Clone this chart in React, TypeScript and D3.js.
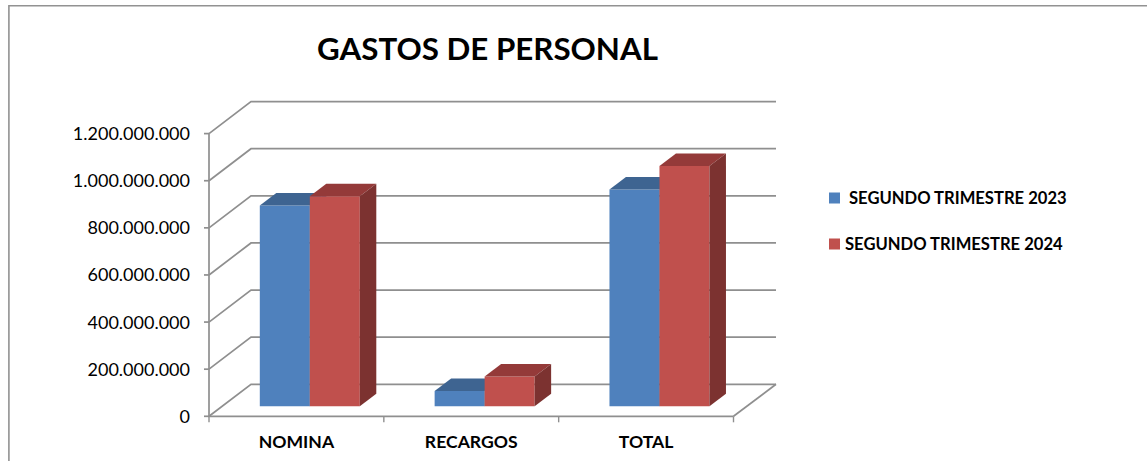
import * as d3 from "d3";

const categories = ["NOMINA", "RECARGOS", "TOTAL"];
const seriesNames = ["SEGUNDO TRIMESTRE 2023", "SEGUNDO TRIMESTRE 2024"];
const values2023 = [852000000, 65000000, 920000000];
const values2024 = [892000000, 127000000, 1020000000];
const yTicks = [0, 200000000, 400000000, 600000000, 800000000, 1000000000, 1200000000];

const FONT = "Lato, 'Open Sans', sans-serif";
const GRID = "#8f8f8f";
const depthX = 42;
const depthY = 32;
const barDepthX = 16.5;
const barDepthY = 12.5;

const fronts = ["#4f81bd", "#c0504d"];
const tops = ["#3e6491", "#943a39"];
const sides = ["#3a5e8a", "#7c3230"];

const x0 = d3.scaleBand().domain(categories).range([209, 733.5]);
const x1 = d3.scaleBand().domain(seriesNames).range([50.8, 150.8]);
const y = d3.scaleLinear().domain([0, 1200000000]).range([416.3, 133.6]);
// bars stand a bit behind the front edge of the floor
const barBase = 10;

const tickFormat = (v: number) => d3.format(",")(v).replace(/,/g, ".");

const poly = (pts: [number, number][]) => d3.line()(pts) + "Z";

function Bar({ cat, s, value }: { cat: string; s: number; value: number }) {
  const left = x0(cat)! + x1(seriesNames[s])!;
  const right = left + x1.bandwidth();
  const bottom = y(0) - barBase;
  const top = y(value) - barBase;
  return (
    <g>
      <path fill={fronts[s]} d={poly([[left, top], [right, top], [right, bottom], [left, bottom]])} />
      <path
        fill={tops[s]}
        d={poly([[left, top], [left + barDepthX, top - barDepthY], [right + barDepthX, top - barDepthY], [right, top]])}
      />
      <path
        fill={sides[s]}
        d={poly([[right, top], [right + barDepthX, top - barDepthY], [right + barDepthX, bottom - barDepthY], [right, bottom]])}
      />
    </g>
  );
}

export default function App() {
  const [xl, xr] = x0.range();
  const bounds = [...categories.map((c) => x0(c)!), xr];
  const legendY = [198, 244];
  const legendTextX = [849, 845];

  return (
    <svg width={1147} height={461} style={{ position: "absolute", left: 0, top: 0, background: "#fff" }}>
      {/* outer chart frame */}
      <path d="M1147,5.7H8.9V461" fill="none" stroke="#929292" strokeWidth={1.6} />

      <text x={487.5} y={60} textAnchor="middle" fontFamily={FONT} fontWeight={700} fontSize={31.3} fill="#000">
        GASTOS DE PERSONAL
      </text>

      {/* back wall and left wall grid */}
      {yTicks.map((t) => (
        <g key={t} fill="none" stroke={GRID} strokeWidth={1.7}>
          <path d={`M${xl},${y(t)}L${xl + depthX},${y(t) - depthY}H${xr + depthX + 0.5}`} />
          <path d={`M${xl - 5},${y(t)}H${xl}`} />
        </g>
      ))}
      <path d={`M${xr},${y(0)}L${xr + depthX + 0.5},${y(0) - depthY}`} fill="none" stroke={GRID} strokeWidth={1.7} />

      {/* axes */}
      <path d={`M${xl},${y(1200000000)}V${y(0)}H${xr}`} fill="none" stroke={GRID} strokeWidth={1.7} />
      {bounds.map((b) => (
        <path key={b} d={`M${b},${y(0)}v6`} fill="none" stroke={GRID} strokeWidth={1.4} />
      ))}

      {categories.map((c, i) => (
        <g key={c}>
          <Bar cat={c} s={0} value={values2023[i]} />
          <Bar cat={c} s={1} value={values2024[i]} />
        </g>
      ))}

      {yTicks.map((t) => (
        <text key={t} x={190} y={y(t) + 6.5} textAnchor="end" fontFamily={FONT} fontSize={18} fill="#000">
          {tickFormat(t)}
        </text>
      ))}

      {categories.map((c) => (
        <text
          key={c}
          x={x0(c)! + x0.bandwidth() / 2}
          y={448}
          textAnchor="middle"
          fontFamily={FONT}
          fontWeight={700}
          fontSize={17.6}
          fill="#000"
        >
          {c}
        </text>
      ))}

      {seriesNames.map((name, i) => (
        <g key={name}>
          <rect x={829} y={legendY[i] - 5.5} width={11} height={11} fill={fronts[i]} />
          <text x={legendTextX[i]} y={legendY[i] + 5.5} fontFamily={FONT} fontWeight={700} fontSize={16.6} fill="#000">
            {name}
          </text>
        </g>
      ))}
    </svg>
  );
}
